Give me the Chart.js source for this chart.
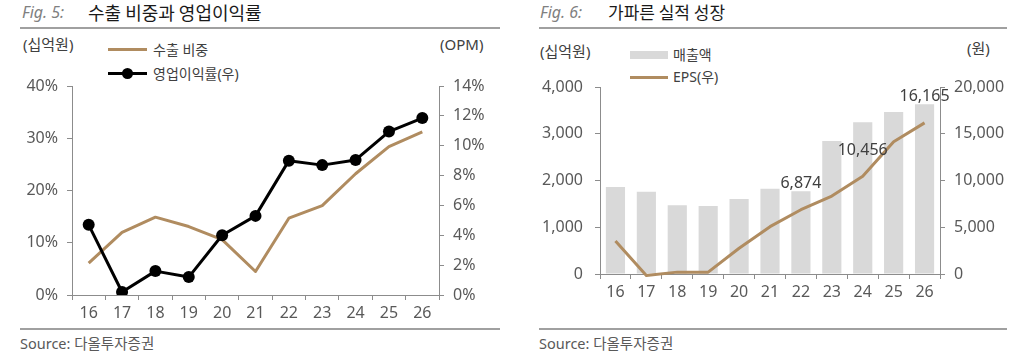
<!DOCTYPE html>
<html>
<head>
<meta charset="utf-8">
<script src="https://cdn.jsdelivr.net/npm/chart.js@4.4.1/dist/chart.umd.min.js"></script>
<style>
  body { margin: 0; width: 1024px; height: 354px; position: relative; overflow: hidden; background: #fff;
         font-family: 'Noto Sans', 'Noto Sans CJK KR', sans-serif; }
  .t { position: absolute; white-space: nowrap; line-height: 0; }
  .fig { font-size: 16px; font-style: italic; color: #808080; }
  .ttl { font-family: 'Noto Sans CJK KR', sans-serif; color: #1a1a1a; }
  .unit { font-size: 15px; color: #404040; }
  .lg { font-size: 14px; color: #404040; }
  .src { font-size: 14.5px; color: #595959; }
  .rule { position: absolute; height: 2px; background: #a0a0a0; }
  .sw { position: absolute; }
  canvas { position: absolute; top: 0; }
</style>
</head>
<body>
<!-- Fig. 5 -->
<div class="t fig" style="left:22px; top:12px;">Fig. 5:</div>
<div class="t ttl" style="left:88px; top:12px; font-size:18px;">수출 비중과 영업이익률</div>
<div class="rule" style="left:20px; top:27px; width:480px;"></div>
<div class="t unit" style="left:23px; top:44px;">(십억원)</div>
<div class="t unit" style="left:440px; top:44px;">(OPM)</div>
<div class="sw" style="left:108px; top:48px; width:39px; height:3px; background:#b08c60;"></div>
<div class="t lg" style="left:153px; top:50px;">수출 비중</div>
<div class="sw" style="left:108px; top:72px; width:39px; height:3px; background:#000;"></div>
<div class="sw" style="left:122px; top:68px; width:11px; height:11px; border-radius:50%; background:#000;"></div>
<div class="t lg" style="left:153px; top:74px;">영업이익률(우)</div>
<div class="rule" style="left:20px; top:328px; width:480px;"></div>
<div class="t src" style="left:20px; top:343px;">Source: 다올투자증권</div>
<canvas id="fig5" width="512" height="354" style="left:0; width:512px; height:354px;"></canvas>

<!-- Fig. 6 -->
<div class="t fig" style="left:540px; top:12px;">Fig. 6:</div>
<div class="t ttl" style="left:608px; top:12px; font-size:17px;">가파른 실적 성장</div>
<div class="rule" style="left:539px; top:27px; width:468px;"></div>
<div class="t unit" style="left:540px; top:51px;">(십억원)</div>
<div class="t unit" style="left:967px; top:48px;">(원)</div>
<div class="sw" style="left:630px; top:51px; width:38px; height:8px; background:#d9d9d9;"></div>
<div class="t lg" style="left:673px; top:55px;">매출액</div>
<div class="sw" style="left:630px; top:76px; width:38px; height:3px; background:#b08c60;"></div>
<div class="t lg" style="left:673px; top:77px;">EPS(우)</div>
<div class="rule" style="left:539px; top:328px; width:468px;"></div>
<div class="t src" style="left:539px; top:343px;">Source: 다올투자증권</div>
<canvas id="fig6" width="494" height="354" style="left:530px; width:494px; height:354px;"></canvas>

<script>
const FONT = "'Noto Sans', 'Noto Sans CJK KR', sans-serif";
const TICK_COLOR = '#595959';
const AXIS_COLOR = '#8c8c8c';
const TAN = '#b08c60';

const years = ['16', '17', '18', '19', '20', '21', '22', '23', '24', '25', '26'];

// Fig. 5: 수출 비중 (좌, %), 영업이익률 (우, %)
const exportShare = [6.1, 12.0, 14.9, 13.1, 10.6, 4.5, 14.7, 17.1, 23.2, 28.4, 31.2];
const opm = [4.7, 0.2, 1.6, 1.2, 4.0, 5.3, 9.0, 8.7, 9.05, 10.95, 11.85];

// Fig. 6: 매출액 (좌, 십억원), EPS (우, 원)
const sales = [1860, 1760, 1470, 1455, 1605, 1825, 1770, 2845, 3245, 3465, 3630];
const eps = [3530, -150, 200, 200, 2750, 5060, 6874, 8340, 10456, 14150, 16165];
const epsLabelAt = ['22', '24', '26'];

const tickFont = { family: FONT, size: 16 };

function xAxis(height) {
  return {
    offset: true,
    grid: { drawOnChartArea: false, offset: true, tickLength: 5, color: AXIS_COLOR },
    border: { color: AXIS_COLOR },
    ticks: { color: TICK_COLOR, font: tickFont, padding: 4, maxRotation: 0, autoSkip: false },
    afterFit(s) { s.height = height; },
  };
}

function yAxis(position, width, min, max, step, fmt, pad) {
  return {
    position,
    min, max,
    grid: { drawOnChartArea: false, tickLength: 5, color: AXIS_COLOR },
    border: { color: AXIS_COLOR },
    ticks: { stepSize: step, color: TICK_COLOR, font: tickFont, padding: pad, callback: fmt },
    afterFit(s) { s.width = width; },
  };
}

const num = v => v.toLocaleString('en-US');

new Chart(document.getElementById('fig5'), {
  type: 'line',
  data: {
    labels: years,
    datasets: [
      {
        label: '영업이익률(우)',
        data: opm,
        yAxisID: 'y1',
        borderColor: '#000',
        borderWidth: 3,
        pointRadius: 6,
        pointBorderWidth: 0,
        pointBackgroundColor: '#000',
        order: 0,
      },
      {
        label: '수출 비중',
        data: exportShare,
        yAxisID: 'y',
        borderColor: TAN,
        borderWidth: 3,
        pointRadius: 0,
        order: 1,
      },
    ],
  },
  options: {
    responsive: false,
    animation: false,
    layout: { padding: { top: 86, left: 0, right: 0, bottom: 0 } },
    plugins: { legend: { display: false }, tooltip: { enabled: false } },
    elements: { line: { tension: 0, borderJoinStyle: 'round' } },
    scales: {
      x: xAxis(354 - 295),
      y: yAxis('left', 72, 0, 40, 10, v => v + '%', 9),
      y1: yAxis('right', 512 - 439, 0, 14, 2, v => v + '%', 9),
    },
  },
});

const pointLabels = {
  id: 'pointLabels',
  afterDatasetsDraw(chart) {
    const meta = chart.getDatasetMeta(0);
    const ctx = chart.ctx;
    ctx.save();
    ctx.font = '16px ' + FONT;
    ctx.fillStyle = '#404040';
    ctx.textAlign = 'center';
    ctx.textBaseline = 'middle';
    epsLabelAt.forEach(y => {
      const i = years.indexOf(y);
      const p = meta.data[i];
      ctx.fillText(num(eps[i]), p.x, p.y - 26);
    });
    ctx.restore();
  },
};

new Chart(document.getElementById('fig6'), {
  type: 'bar',
  data: {
    labels: years,
    datasets: [
      {
        type: 'line',
        label: 'EPS(우)',
        data: eps,
        yAxisID: 'y1',
        borderColor: TAN,
        borderWidth: 3,
        pointRadius: 0,
        clip: false,
        order: 0,
      },
      {
        label: '매출액',
        data: sales,
        yAxisID: 'y',
        backgroundColor: '#d9d9d9',
        barPercentage: 0.62,
        categoryPercentage: 1,
        order: 1,
      },
    ],
  },
  options: {
    responsive: false,
    animation: false,
    layout: { padding: { top: 87, left: 0, right: 0, bottom: 0 } },
    plugins: { legend: { display: false }, tooltip: { enabled: false } },
    elements: { line: { tension: 0, borderJoinStyle: 'round' } },
    scales: {
      x: xAxis(354 - 274),
      y: yAxis('left', 70, 0, 4000, 1000, num, 12),
      y1: yAxis('right', 494 - 410, 0, 20000, 5000, num, 9),
    },
  },
  plugins: [pointLabels],
});
</script>
</body>
</html>
